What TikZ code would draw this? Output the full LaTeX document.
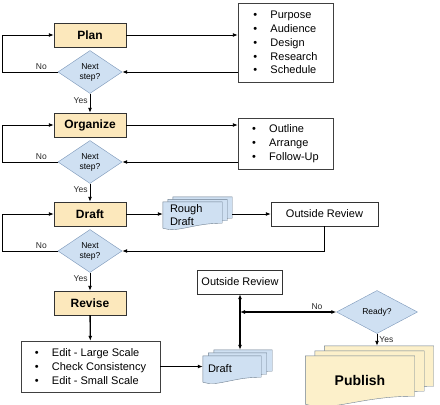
\documentclass[tikz,border=0pt]{standalone}
\usepackage{fontspec}
\setmainfont{Liberation Sans}
\usetikzlibrary{arrows.meta, positioning, shapes.geometric, backgrounds, calc}
\definecolor{stepfill}{HTML}{FCE8BC}
\definecolor{pubfill}{HTML}{FCF0CA}
\definecolor{bluefill}{HTML}{CFE0F2}
\definecolor{blueline}{HTML}{7A96B8}
\definecolor{docline}{HTML}{6E7F90}
\newcommand{\bl}{\makebox[17pt][l]{\textbullet}}
% stack of three wavy pages behind a node: node, dx, dy, fill, wave
\newcommand{\docstack}[5]{%
  \begin{scope}[on background layer]
    \foreach \k in {2,1,0}{
      \begin{scope}[transform canvas={shift={(\k*#2pt,\k*#3pt)}}]
        \draw[docline, fill=#4] (#1.north west) -- (#1.north east) -- ([yshift=#5pt]#1.south east)
          .. controls ([yshift=#5pt]#1.south) and ($($(#1.south west)!0.5!(#1.south)$)+(0,-#5pt)$) .. (#1.south west) -- cycle;
      \end{scope}}
  \end{scope}}

\begin{document}
\begin{tikzpicture}[x=1pt, y=-1pt,
  stepbox/.style={draw=black!80, fill=stepfill, font=\bfseries\fontsize{12}{14}\selectfont,
                  minimum width=72, minimum height=24, inner sep=0pt},
  decide/.style={diamond, aspect=1.5, draw=blueline, fill=bluefill, align=center,
                 font=\fontsize{8.5}{10}\selectfont, minimum width=64, minimum height=43, inner sep=0pt},
  listbox/.style={draw=black!75, fill=white, align=left, font=\fontsize{11}{13.8}\selectfont, inner sep=0pt},
  plainbox/.style={draw=black!80, fill=white, font=\fontsize{11}{13}\selectfont, minimum height=24, inner sep=0pt},
  doc/.style={align=left, font=\fontsize{11}{12.5}\selectfont, inner sep=0pt},
  lbl/.style={font=\fontsize{8.5}{10}\selectfont, black!85, inner sep=2pt},
  ar/.style={-{Latex[length=5pt, width=4pt]}, line width=0.9pt},
  arb/.style={{Latex[length=5pt, width=4pt]}-{Latex[length=5pt, width=4pt]}, line width=1.3pt},
  heavy/.style={line width=1.3pt}]
\useasboundingbox (0,0) rectangle (440,405);

% main column
\node[stepbox] (plan) at (90,35) {Plan};
\node[decide] (d1) at (90,72) {Next\\step?};
\node[stepbox] (org) at (90,125) {Organize};
\node[decide] (d2) at (90,162) {Next\\step?};
\node[stepbox] (draft) at (90,214) {Draft};
\node[decide] (d3) at (90,251) {Next\\step?};
\node[stepbox] (rev) at (90,303) {Revise};

% lists
\node[listbox, minimum width=95, minimum height=79] (plist) at (285.5,42.5)
  {\bl Purpose\\\bl Audience\\\bl Design\\\bl Research\\\bl Schedule};
\node[listbox, minimum width=95, minimum height=51] (olist) at (285.5,143.5)
  {\bl Outline\\\bl Arrange\\\bl Follow-Up};
\node[listbox, minimum width=139, minimum height=51] (elist) at (90.5,366.5)
  {\bl Edit - Large Scale\\\bl Check Consistency\\\bl Edit - Small Scale};

% drafts and reviews
\node[doc, minimum width=59, minimum height=26, text width=45] (rough) at (192.5,215) {Rough\\Draft};
\docstack{rough}{5}{2.5}{bluefill}{5}
\node[plainbox, minimum width=107] (orev1) at (324.5,214) {Outside Review};
\node[doc, minimum width=58, minimum height=26, text width=48] (ldraft) at (232,369) {Draft};
\docstack{ldraft}{5.5}{3}{bluefill}{5}
\node[plainbox, minimum width=85] (orev2) at (240,282) {Outside Review};
\node[decide, minimum width=81] (ready) at (377,312) {Ready?};
\node[doc, align=center, font=\bfseries\fontsize{14}{16}\selectfont,
      minimum width=109, minimum height=48] (pub) at (360,380) {Publish};
\docstack{pub}{9.5}{5}{pubfill}{8}

\coordinate (ldtop) at ([yshift=6pt]ldraft.north);
\coordinate (pubtop) at ([yshift=10pt]pub.north);
\coordinate (jn) at (orev2.south |- ready.west);

% plan
\draw[ar] (plan.east) -- (plan.east -| plist.west);
\draw[ar] (plist.west |- d1.east) -- (d1.east);
\draw[ar] (d1.west) -- node[lbl, above, pos=0.3]{No} ++(-55,0) |- (plan.west);
\draw[ar] (d1) -- node[lbl, left, pos=0.35]{Yes} (org);
% organize
\draw[ar] (org.east) -- (org.east -| olist.west);
\draw[ar] (olist.west |- d2.east) -- (d2.east);
\draw[ar] (d2.west) -- node[lbl, above, pos=0.3]{No} ++(-55,0) |- (org.west);
\draw[ar] (d2) -- node[lbl, left, pos=0.35]{Yes} (draft);
% draft
\draw[ar] (draft.east) -- (draft.east -| rough.west);
\draw[ar] ([xshift=10pt]orev1.west -| rough.east) -- (orev1.west);
\draw[ar] (orev1.south) |- (d3.east);
\draw[ar] (d3.west) -- node[lbl, above, pos=0.3]{No} ++(-55,0) |- (draft.west);
\draw[ar] (d3) -- node[lbl, left, pos=0.35]{Yes} (rev);
% revise
\draw[ar, heavy] (rev) -- (elist);
\draw[ar, heavy] (elist.east) -- (elist.east -| ldraft.west);
\draw[arb] (orev2.south) -- (orev2.south |- ldtop);
\draw[arb] (jn) -- node[lbl, above, pos=0.8]{No} (ready.west);
\draw[ar] (ready.south) -- node[lbl, right]{Yes} (ready.south |- pubtop);
\end{tikzpicture}
\end{document}
